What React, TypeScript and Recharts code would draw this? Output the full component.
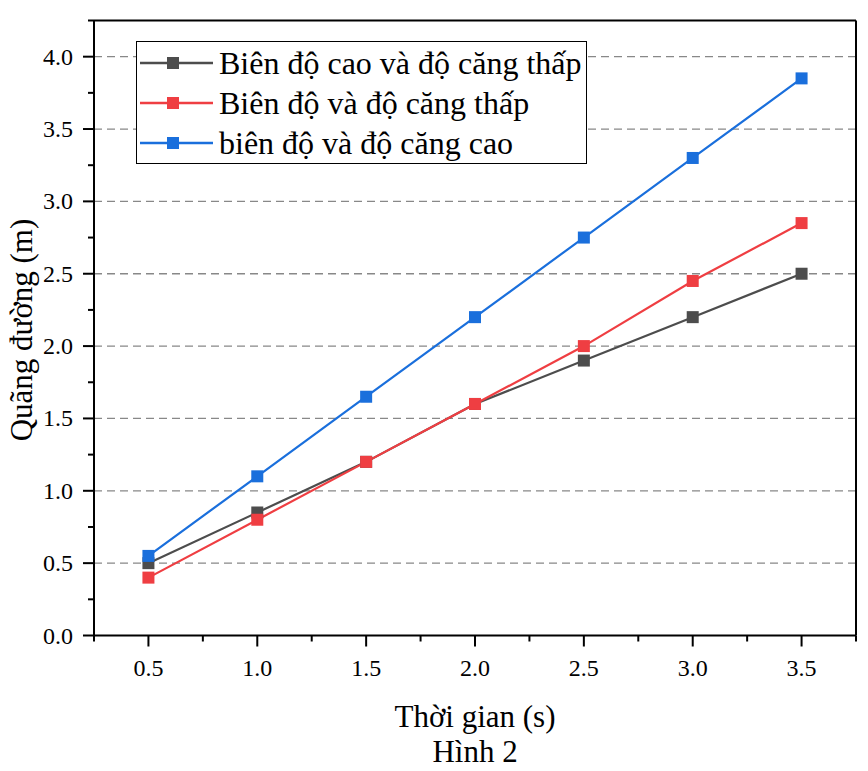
import { LineChart, Line, XAxis, YAxis, CartesianGrid, ReferenceLine, Legend } from "recharts";

const times = [0.5, 1.0, 1.5, 2.0, 2.5, 3.0, 3.5];
const highAmpLowTension = [0.5, 0.85, 1.2, 1.6, 1.9, 2.2, 2.5];
const ampLowTension = [0.4, 0.8, 1.2, 1.6, 2.0, 2.45, 2.85];
const ampHighTension = [0.55, 1.1, 1.65, 2.2, 2.75, 3.3, 3.85];

const seriesNames = ["Biên độ cao và độ căng thấp", "Biên độ và độ căng thấp", "biên độ và độ căng cao"];
const seriesColors = ["#4d4d4d", "#ef3e42", "#1a6fdc"];
const seriesKeys = ["a", "b", "c"];

const xTicks = [0.25, 0.5, 0.75, 1.0, 1.25, 1.5, 1.75, 2.0, 2.25, 2.5, 2.75, 3.0, 3.25, 3.5, 3.75];
const yTicks = [0, 0.25, 0.5, 0.75, 1.0, 1.25, 1.5, 1.75, 2.0, 2.25, 2.5, 2.75, 3.0, 3.25, 3.5, 3.75, 4.0, 4.25];
const gridValues = [0.5, 1.0, 1.5, 2.0, 2.5, 3.0, 3.5, 4.0];

const data = times.map((t, i) => ({
  t,
  a: highAmpLowTension[i],
  b: ampLowTension[i],
  c: ampHighTension[i],
}));

const FONT = "'Liberation Serif', 'Times New Roman', serif";
const isMajor = (v: number) => Math.abs(v * 2 - Math.round(v * 2)) < 1e-6;

const XTick = (props: any) => {
  const { x, y, payload } = props;
  const major = isMajor(payload.value);
  return (
    <g>
      <line x1={x} x2={x} y1={y} y2={y + (major ? 11 : 6)} stroke="#000" strokeWidth={2} />
      {major && (
        <text x={x} y={y + 40} textAnchor="middle" fontSize={24} fontFamily={FONT} fill="#000">
          {payload.value.toFixed(1)}
        </text>
      )}
    </g>
  );
};

const YTick = (props: any) => {
  const { x, y, payload } = props;
  const major = isMajor(payload.value);
  return (
    <g>
      <line x1={x} x2={x - (major ? 11 : 6)} y1={y} y2={y} stroke="#000" strokeWidth={2} />
      {major && (
        <text x={x - 21} y={y + 8} textAnchor="end" fontSize={24} fontFamily={FONT} fill="#000">
          {payload.value.toFixed(1)}
        </text>
      )}
    </g>
  );
};

const Square = (color: string) => (props: any) => {
  const { cx, cy, index } = props;
  return <rect key={index} x={cx - 6} y={cy - 6} width={12} height={12} fill={color} />;
};

const LegendBox = () => (
  <div
    style={{
      width: 451,
      height: 123,
      boxSizing: "border-box",
      border: "1.5px solid #000",
      background: "#fff",
      paddingTop: 1,
      fontFamily: FONT,
    }}
  >
    {seriesNames.map((name, i) => (
      <div key={name} style={{ height: 40, display: "flex", alignItems: "center" }}>
        <svg width={82} height={20} style={{ flex: "none" }}>
          <line x1={3} x2={76} y1={10} y2={10} stroke={seriesColors[i]} strokeWidth={2.5} />
          <rect x={30} y={4} width={12} height={12} fill={seriesColors[i]} />
        </svg>
        <span style={{ fontSize: 32, lineHeight: "40px", color: "#000", whiteSpace: "nowrap" }}>{name}</span>
      </div>
    ))}
  </div>
);

export default function App() {
  return (
    <div style={{ position: "relative", width: 852, height: 755, fontFamily: FONT }}>
      <LineChart
        width={852}
        height={755}
        data={data}
        margin={{ top: 12.5, right: 4, left: 16, bottom: 77.5 }}
      >
        <CartesianGrid
          horizontal
          vertical={false}
          horizontalValues={gridValues}
          stroke="#888"
          strokeDasharray="8 5"
          strokeWidth={1.3}
        />
        <XAxis
          dataKey="t"
          type="number"
          domain={[0.25, 3.75]}
          ticks={xTicks}
          interval={0}
          allowDataOverflow
          height={50}
          tickSize={0}
          tickMargin={0}
          tickLine={false}
          axisLine={{ stroke: "#000", strokeWidth: 2 }}
          tick={<XTick />}
        />
        <YAxis
          type="number"
          domain={[0, 4.25]}
          ticks={yTicks}
          interval={0}
          allowDataOverflow
          width={70}
          tickSize={0}
          tickMargin={0}
          tickLine={false}
          axisLine={{ stroke: "#000", strokeWidth: 2 }}
          tick={<YTick />}
        />
        <ReferenceLine y={4.25} stroke="#000" strokeWidth={2} />
        <ReferenceLine x={3.75} stroke="#000" strokeWidth={2} />
        {seriesKeys.map((k, i) => (
          <Line
            key={k}
            dataKey={k}
            name={seriesNames[i]}
            stroke={seriesColors[i]}
            strokeWidth={2.2}
            dot={Square(seriesColors[i])}
            activeDot={false}
            isAnimationActive={false}
          />
        ))}
        <Legend
          layout="horizontal"
          verticalAlign="middle"
          align="center"
          content={<LegendBox />}
          wrapperStyle={{ position: "absolute", left: 128, top: 33, width: 451, height: 123 }}
        />
      </LineChart>
      <div
        style={{
          position: "absolute",
          left: 14,
          top: 322,
          transform: "translate(-50%, -50%) rotate(-90deg)",
          fontSize: 31,
          whiteSpace: "nowrap",
          color: "#000",
        }}
      >
        Quãng đường (m)
      </div>
      <div
        style={{
          position: "absolute",
          left: 467,
          top: 709,
          transform: "translate(-50%, -50%)",
          fontSize: 31,
          whiteSpace: "nowrap",
          color: "#000",
        }}
      >
        Thời gian (s)
      </div>
      <div
        style={{
          position: "absolute",
          left: 467,
          top: 744,
          transform: "translate(-50%, -50%)",
          fontSize: 31,
          whiteSpace: "nowrap",
          color: "#000",
        }}
      >
        Hình 2
      </div>
    </div>
  );
}
